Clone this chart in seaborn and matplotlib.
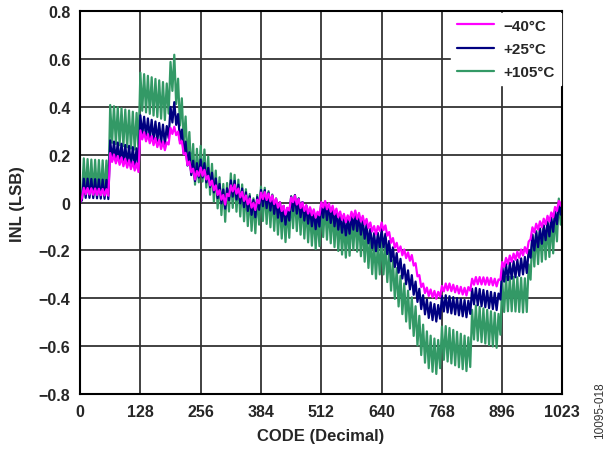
import numpy as np
import pandas as pd
import matplotlib
matplotlib.use("Agg")
import matplotlib.pyplot as plt
import seaborn as sns

# INL, one value every 4 codes (0, 4, ..., 1020) plus code 1023
inl_m40 = [
    0.000, 0.020, 0.062, 0.035, 0.061, 0.034, 0.060, 0.033, 0.059, 0.032, 0.058, 0.031, 0.057, 0.030, 0.056, 0.029,
    0.207, 0.170, 0.201, 0.164, 0.195, 0.158, 0.189, 0.152, 0.183, 0.146, 0.177, 0.140, 0.171, 0.134, 0.165, 0.128,
    0.302, 0.264, 0.294, 0.256, 0.286, 0.248, 0.278, 0.240, 0.270, 0.232, 0.262, 0.224, 0.255, 0.219, 0.252, 0.243,
    0.312, 0.287, 0.317, 0.282, 0.297, 0.247, 0.257, 0.202, 0.207, 0.157, 0.172, 0.127, 0.142, 0.097, 0.132, 0.112,
    0.147, 0.112, 0.137, 0.097, 0.112, 0.072, 0.092, 0.052, 0.072, 0.032, 0.052, 0.012, 0.032, -0.008, 0.037, 0.027,
    0.072, 0.047, 0.075, 0.037, 0.059, 0.022, 0.045, 0.007, 0.030, -0.007, 0.017, -0.021, -0.001, -0.031, 0.012, -0.003,
    0.042, 0.015, 0.044, 0.011, 0.038, 0.005, 0.030, -0.006, 0.017, -0.021, 0.002, -0.035, -0.013, -0.050, -0.021, -0.033,
    0.022, 0.002, 0.029, -0.008, 0.015, -0.023, 0.001, -0.035, -0.011, -0.046, -0.019, -0.053, -0.028, -0.063, -0.038, -0.053,
    0.002, -0.021, 0.007, -0.028, -0.003, -0.038, -0.013, -0.049, -0.025, -0.061, -0.037, -0.072, -0.047, -0.082, -0.053, -0.075,
    -0.038, -0.063, -0.033, -0.068, -0.043, -0.079, -0.055, -0.091, -0.068, -0.106, -0.083, -0.121, -0.098, -0.133, -0.098, -0.118,
    -0.083, -0.115, -0.095, -0.138, -0.123, -0.168, -0.148, -0.188, -0.168, -0.206, -0.183, -0.220, -0.196, -0.232, -0.208, -0.243,
    -0.219, -0.263, -0.253, -0.308, -0.303, -0.353, -0.338, -0.378, -0.355, -0.390, -0.363, -0.396, -0.369, -0.402, -0.373, -0.393,
    -0.348, -0.371, -0.338, -0.367, -0.338, -0.370, -0.343, -0.375, -0.348, -0.380, -0.352, -0.384, -0.356, -0.388, -0.353, -0.368,
    -0.318, -0.343, -0.311, -0.341, -0.311, -0.342, -0.312, -0.343, -0.313, -0.344, -0.315, -0.346, -0.318, -0.350, -0.321, -0.323,
    -0.248, -0.268, -0.231, -0.256, -0.221, -0.247, -0.213, -0.239, -0.205, -0.231, -0.196, -0.221, -0.186, -0.211, -0.163, -0.153,
    -0.103, -0.125, -0.088, -0.113, -0.078, -0.103, -0.067, -0.091, -0.055, -0.079, -0.041, -0.061, -0.018, -0.035, 0.007, -0.013,
    0.010,
]

inl_p25 = [
    0.000, 0.010, 0.100, 0.020, 0.100, 0.020, 0.099, 0.019, 0.098, 0.018, 0.097, 0.017, 0.096, 0.016, 0.095, 0.015,
    0.260, 0.178, 0.255, 0.173, 0.251, 0.168, 0.246, 0.164, 0.241, 0.159, 0.237, 0.154, 0.232, 0.150, 0.227, 0.145,
    0.365, 0.282, 0.359, 0.275, 0.352, 0.269, 0.346, 0.262, 0.339, 0.256, 0.333, 0.249, 0.326, 0.243, 0.320, 0.270,
    0.400, 0.335, 0.420, 0.325, 0.370, 0.260, 0.305, 0.205, 0.255, 0.155, 0.210, 0.115, 0.175, 0.090, 0.165, 0.105,
    0.180, 0.105, 0.165, 0.085, 0.145, 0.065, 0.125, 0.043, 0.101, 0.019, 0.078, -0.003, 0.055, -0.025, 0.060, 0.010,
    0.093, 0.025, 0.091, 0.013, 0.075, -0.003, 0.059, -0.019, 0.043, -0.035, 0.027, -0.051, 0.011, -0.061, 0.023, -0.030,
    0.053, -0.015, 0.052, -0.023, 0.042, -0.033, 0.030, -0.047, 0.015, -0.063, 0.000, -0.078, -0.015, -0.092, -0.023, -0.075,
    0.025, -0.035, 0.031, -0.046, 0.017, -0.061, 0.002, -0.075, -0.012, -0.088, -0.023, -0.099, -0.035, -0.111, -0.047, -0.100,
    0.000, -0.063, 0.003, -0.073, -0.009, -0.085, -0.022, -0.099, -0.036, -0.113, -0.050, -0.126, -0.062, -0.137, -0.069, -0.130,
    -0.050, -0.113, -0.043, -0.119, -0.056, -0.134, -0.072, -0.151, -0.090, -0.170, -0.110, -0.190, -0.128, -0.203, -0.127, -0.187,
    -0.113, -0.187, -0.130, -0.215, -0.160, -0.245, -0.187, -0.269, -0.211, -0.293, -0.235, -0.317, -0.259, -0.341, -0.283, -0.363,
    -0.303, -0.385, -0.330, -0.415, -0.360, -0.445, -0.387, -0.467, -0.405, -0.482, -0.417, -0.491, -0.424, -0.497, -0.428, -0.485,
    -0.390, -0.455, -0.387, -0.459, -0.391, -0.463, -0.395, -0.467, -0.399, -0.471, -0.403, -0.475, -0.407, -0.479, -0.410, -0.465,
    -0.360, -0.425, -0.357, -0.429, -0.361, -0.433, -0.365, -0.437, -0.369, -0.441, -0.373, -0.445, -0.377, -0.449, -0.380, -0.405,
    -0.265, -0.330, -0.257, -0.324, -0.251, -0.318, -0.245, -0.312, -0.239, -0.306, -0.233, -0.300, -0.227, -0.294, -0.200, -0.230,
    -0.135, -0.200, -0.123, -0.186, -0.109, -0.172, -0.095, -0.157, -0.079, -0.141, -0.062, -0.122, -0.037, -0.090, 0.000, -0.050,
    0.005,
]

inl_p105 = [
    0.000, 0.020, 0.185, 0.040, 0.182, 0.040, 0.180, 0.039, 0.179, 0.038, 0.178, 0.037, 0.177, 0.036, 0.176, 0.035,
    0.408, 0.250, 0.403, 0.245, 0.399, 0.240, 0.394, 0.236, 0.389, 0.231, 0.385, 0.226, 0.380, 0.222, 0.375, 0.217,
    0.543, 0.384, 0.537, 0.377, 0.530, 0.371, 0.524, 0.364, 0.517, 0.358, 0.511, 0.351, 0.504, 0.345, 0.498, 0.372,
    0.588, 0.467, 0.618, 0.412, 0.518, 0.322, 0.436, 0.245, 0.360, 0.175, 0.295, 0.120, 0.245, 0.075, 0.225, 0.085,
    0.237, 0.088, 0.222, 0.063, 0.192, 0.033, 0.162, 0.004, 0.134, -0.024, 0.106, -0.052, 0.078, -0.080, 0.082, -0.037,
    0.122, -0.022, 0.116, -0.038, 0.096, -0.058, 0.076, -0.078, 0.056, -0.098, 0.036, -0.118, 0.018, -0.128, 0.032, -0.092,
    0.067, -0.077, 0.062, -0.089, 0.048, -0.103, 0.034, -0.118, 0.018, -0.134, 0.002, -0.150, -0.014, -0.165, -0.023, -0.147,
    0.027, -0.107, 0.032, -0.119, 0.018, -0.134, 0.002, -0.150, -0.014, -0.166, -0.029, -0.180, -0.043, -0.194, -0.056, -0.182,
    -0.008, -0.144, -0.004, -0.155, -0.018, -0.170, -0.034, -0.186, -0.050, -0.202, -0.066, -0.217, -0.080, -0.230, -0.088, -0.222,
    -0.063, -0.197, -0.053, -0.205, -0.070, -0.224, -0.091, -0.247, -0.116, -0.273, -0.142, -0.299, -0.166, -0.318, -0.168, -0.300,
    -0.150, -0.300, -0.171, -0.332, -0.206, -0.368, -0.241, -0.402, -0.274, -0.434, -0.306, -0.466, -0.338, -0.497, -0.368, -0.526,
    -0.396, -0.557, -0.433, -0.597, -0.473, -0.637, -0.510, -0.669, -0.538, -0.692, -0.556, -0.707, -0.568, -0.716, -0.574, -0.692,
    -0.518, -0.657, -0.516, -0.664, -0.524, -0.672, -0.532, -0.680, -0.540, -0.688, -0.548, -0.696, -0.556, -0.704, -0.563, -0.687,
    -0.448, -0.572, -0.430, -0.577, -0.436, -0.583, -0.442, -0.589, -0.448, -0.595, -0.454, -0.601, -0.460, -0.607, -0.465, -0.552,
    -0.328, -0.457, -0.310, -0.454, -0.310, -0.454, -0.310, -0.455, -0.312, -0.457, -0.314, -0.459, -0.316, -0.457, -0.258, -0.322,
    -0.133, -0.267, -0.118, -0.257, -0.108, -0.247, -0.098, -0.237, -0.088, -0.227, -0.078, -0.212, -0.048, -0.162, 0.017, -0.092,
    0.000,
]

codes = list(range(0, 1024, 4)) + [1023]

labels = ["\u221240\u00b0C", "+25\u00b0C", "+105\u00b0C"]
colors = ["#FF00FF", "#000080", "#339966"]
x_ticks = [0, 128, 256, 384, 512, 640, 768, 896, 1023]
y_ticks = [-0.8, -0.6, -0.4, -0.2, 0, 0.2, 0.4, 0.6, 0.8]
y_tick_labels = ["\u22120.8", "\u22120.6", "\u22120.4", "\u22120.2", "0", "0.2", "0.4", "0.6", "0.8"]

df = pd.DataFrame({
    "code": codes * 3,
    "inl": inl_m40 + inl_p25 + inl_p105,
    "temp": [labels[0]] * len(codes) + [labels[1]] * len(codes) + [labels[2]] * len(codes),
})

sns.set_style("white")
plt.rcParams["font.family"] = ["Liberation Sans", "DejaVu Sans"]
plt.rcParams["font.weight"] = "bold"

fig = plt.figure(figsize=(6.11, 4.52), dpi=100)
ax = fig.add_axes([0.131, 0.126, 0.789, 0.847])

# draw hottest first so the -40C trace sits on top
for lab, col in list(zip(labels, colors))[::-1]:
    sns.lineplot(data=df[df["temp"] == lab], x="code", y="inl", color=col,
                 linewidth=1.6, ax=ax, label=lab, legend=False)

ax.set_xlim(0, 1023)
ax.set_ylim(-0.8, 0.8)
ax.set_xticks(x_ticks)
ax.set_yticks(y_ticks)
ax.set_yticklabels(y_tick_labels)
ax.tick_params(length=0, labelsize=11.5, pad=7)
for t in ax.get_xticklabels() + ax.get_yticklabels():
    t.set_fontweight("bold")
ax.grid(True, color="#333333", linewidth=1.3)
for s in ax.spines.values():
    s.set_color("black")
    s.set_linewidth(1.5)

ax.set_xlabel("CODE (Decimal)", fontsize=12, fontweight="bold", labelpad=7)
ax.set_ylabel("INL (LSB)", fontsize=12, fontweight="bold", labelpad=10)

handles, hl = ax.get_legend_handles_labels()
order = [hl.index(l) for l in labels]
leg = ax.legend([handles[i] for i in order], labels, loc="upper right",
                fontsize=11, frameon=True, fancybox=False, framealpha=1,
                edgecolor="white", handlelength=2.4, handletextpad=0.6,
                labelspacing=0.6, borderaxespad=0.1, borderpad=0.4)
for t in leg.get_texts():
    t.set_fontweight("bold")
for h in leg.get_lines():
    h.set_linewidth(1.6)

fig.text(0.982, 0.092, "10095-018", rotation=90, fontsize=8.5,
         fontweight="normal", color="#333333", ha="center", va="center")

fig.savefig("out.png", dpi=100)
